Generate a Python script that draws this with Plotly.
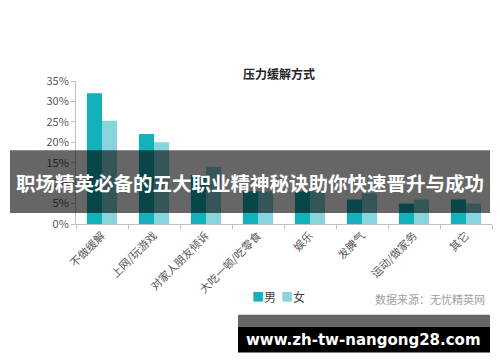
import plotly.graph_objects as go

categories = ["不做缓解", "上网/玩游戏", "对家人朋友倾诉", "大吃一顿/吃零食", "娱乐", "发脾气", "运动/做家务", "其它"]
male = [0.32, 0.22, 0.12, 0.08, 0.08, 0.06, 0.05, 0.06]
female = [0.253, 0.20, 0.14, 0.08, 0.08, 0.075, 0.06, 0.05]
y_ticks = [0, 0.05, 0.10, 0.15, 0.20, 0.25, 0.30, 0.35]
y_tick_text = ["0%", "5%", "10%", "15%", "20%", "25%", "30%", "35%"]
series_names = ["男", "女"]
series_colors = ["#13B1B9", "#88D4DD"]

W, H = 500, 362
L, R, T, B = 76, 8, 80.5, 138
PW = W - L - R
PH = H - T - B

def px(x):
    return (x - L) / PW

def py(y):
    return (H - B - y) / PH

FONT = "Noto Sans CJK SC"

fig = go.Figure()
fig.add_trace(go.Bar(x=categories, y=male, name=series_names[0], marker_color=series_colors[0], marker_line_width=0))
fig.add_trace(go.Bar(x=categories, y=female, name=series_names[1], marker_color=series_colors[1], marker_line_width=0))

fig.update_layout(
    width=W, height=H,
    margin=dict(l=L, r=R, t=T, b=B),
    paper_bgcolor="white", plot_bgcolor="white",
    barmode="group", bargap=0.42, bargroupgap=0,
    font=dict(family=FONT, size=11, color="#595959"),
    showlegend=False,
    xaxis=dict(showline=True, linecolor="#BFBFBF", linewidth=1, ticks="outside",
               tickcolor="#BFBFBF", ticklen=4, tickson="boundaries", tickangle=-45,
               tickfont=dict(size=11, color="#595959"), showgrid=False),
    yaxis=dict(range=[0, 0.35], tickvals=y_ticks, ticktext=y_tick_text, showline=True,
               linecolor="#BFBFBF", linewidth=1, ticks="outside", tickcolor="#BFBFBF",
               ticklen=4, showgrid=False, zeroline=False,
               tickfont=dict(size=11, color="#595959")),
)

def ann(text, x, y, size, color, family=FONT):
    fig.add_annotation(text=text, xref="paper", yref="paper", x=px(x), y=py(y),
                       xanchor="center", yanchor="middle", showarrow=False,
                       font=dict(size=size, color=color, family=family))

# chart title
ann("<b>压力缓解方式</b>", 279, 73, 12, "#262626")
# legend (manual)
ann(f"<span style='color:{series_colors[0]}'>■</span>{series_names[0]}", 264, 297, 12, "#404040")
ann(f"<span style='color:{series_colors[1]}'>■</span>{series_names[1]}", 293, 297, 12, "#404040")
# source
ann("数据来源：无忧精英网", 430, 299, 11, "#A0A0A0")

# overlay banner
fig.add_shape(type="rect", xref="paper", yref="paper", x0=px(10), x1=px(490), y0=py(150), y1=py(213),
              fillcolor="rgba(0,0,0,0.6)", line_width=0, layer="above")
ann("<b>职场精英必备的五大职业精神秘诀助你快速晋升与成功</b>", 250, 182, 19.5, "white")

# bottom watermark box
fig.add_shape(type="rect", xref="paper", yref="paper", x0=px(238), x1=px(490), y0=py(315), y1=py(327),
              fillcolor="rgba(0,0,0,0.6)", line_width=0, layer="above")
fig.add_shape(type="rect", xref="paper", yref="paper", x0=px(238), x1=px(490), y0=py(327), y1=py(353),
              fillcolor="black", line_width=0, layer="above")
ann("<b>www.zh-tw-nangong28.com</b>", 363, 340, 15, "white", "DejaVu Sans")

fig.write_html("out.html")
